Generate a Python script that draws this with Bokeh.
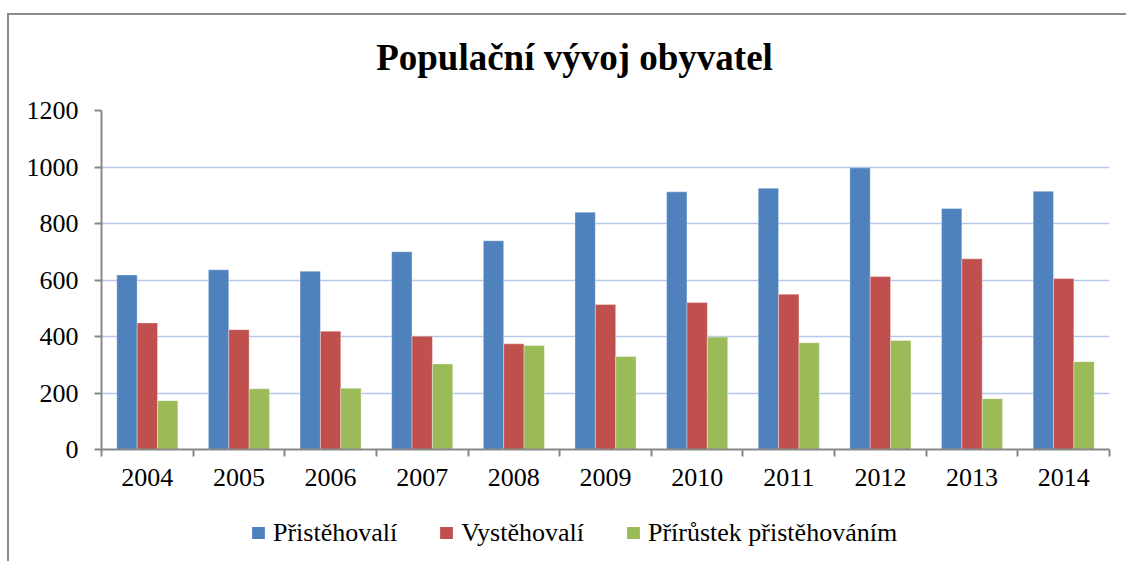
from bokeh.plotting import figure
from bokeh.layouts import column
from bokeh.models import Range1d, FixedTicker, Legend, LegendItem, ColumnDataSource, Label
from bokeh.transform import dodge
from bokeh.embed import file_html
from bokeh.resources import INLINE

years = ["2004", "2005", "2006", "2007", "2008", "2009", "2010", "2011", "2012", "2013", "2014"]
pristehovali = [618, 636, 631, 700, 739, 840, 912, 925, 997, 853, 914]
vystehovali = [448, 424, 419, 401, 374, 513, 520, 550, 612, 675, 605]
prirustek = [173, 215, 217, 303, 368, 329, 398, 378, 386, 180, 311]
series_names = ["Přistěhovalí", "Vystěhovalí", "Přírůstek přistěhováním"]
colors = ["#4F81BD", "#C0504D", "#9BBB59"]
title_text = "Populační vývoj obyvatel"
y_ticks = [0, 200, 400, 600, 800, 1000, 1200]

n = len(years)
centers = [i + 0.5 for i in range(n)]
src = ColumnDataSource(dict(x=centers, a=pristehovali, b=vystehovali, c=prirustek))

FONT = "Liberation Serif"
W = 1117


def strip(height):
    f = figure(width=W, height=height, output_backend="svg", toolbar_location=None,
               x_range=Range1d(0, 1), y_range=Range1d(0, 1), x_axis_type=None, y_axis_type=None,
               min_border_left=0, min_border_right=0, min_border_top=0, min_border_bottom=0)
    f.outline_line_color = None
    f.grid.visible = False
    f.background_fill_color = "white"
    f.border_fill_color = "white"
    return f


# title strip
t = strip(80)
t.add_layout(Label(x=473, y=38, x_units="screen", y_units="screen", text=title_text,
                   text_font=FONT, text_font_size="37px", text_font_style="bold",
                   text_align="center", text_baseline="alphabetic", text_color="black"))

# main chart
p = figure(width=W, height=410, output_backend="svg", toolbar_location=None,
           x_range=Range1d(0, n), y_range=Range1d(0, 1200),
           min_border_left=92, min_border_right=17, min_border_top=15, min_border_bottom=56)
p.outline_line_color = None
p.background_fill_color = "white"
p.border_fill_color = "white"

bw = 2 / 9
renderers = []
for col, off, color in zip(["a", "b", "c"], [-bw, 0, bw], colors):
    r = p.vbar(x=dodge("x", off, range=p.x_range), top=col, width=bw, bottom=0, source=src,
               fill_color=color, line_color="white", line_alpha=0.35, line_width=1)
    renderers.append(r)

xa = p.xaxis[0]
xa.ticker = FixedTicker(ticks=centers, minor_ticks=list(range(n + 1)))
xa.major_label_overrides = {c: y for c, y in zip(centers, years)}
xa.major_tick_line_color = None
xa.minor_tick_line_color = "#888888"
xa.minor_tick_line_width = 2
xa.minor_tick_out = 7
xa.minor_tick_in = 0
xa.axis_line_color = "#888888"
xa.axis_line_width = 2
xa.major_label_text_font = FONT
xa.major_label_text_font_size = "26px"
xa.major_label_text_color = "black"
xa.major_label_standoff = 12

ya = p.yaxis[0]
ya.ticker = FixedTicker(ticks=y_ticks, minor_ticks=[])
ya.major_tick_line_color = "#888888"
ya.major_tick_line_width = 2
ya.major_tick_out = 7
ya.major_tick_in = 0
ya.minor_tick_line_color = None
ya.axis_line_color = "#888888"
ya.axis_line_width = 2
ya.major_label_text_font = FONT
ya.major_label_text_font_size = "26px"
ya.major_label_text_color = "black"
ya.major_label_standoff = 16

p.xgrid.grid_line_color = None
p.ygrid.grid_line_color = "#b3c8ea"
p.ygrid.grid_line_width = 1.5
p.ygrid.ticker = FixedTicker(ticks=y_ticks[1:])

# legend strip (its frame is aligned with p's frame by the column layout)
q = strip(56)
# zero-height placeholder bars: they only supply the legend swatches
swatch = ColumnDataSource(dict(x=[0.5], top=[0]))
leg_renderers = [q.vbar(x="x", top="top", bottom=0, width=0.1, source=swatch, fill_color=c, line_color=None)
                 for c in colors]

legend = Legend(items=[LegendItem(label=nm, renderers=[r]) for nm, r in zip(series_names, leg_renderers)],
                orientation="horizontal", location=(149, 13.5),
                label_text_font=FONT, label_text_font_size="26px", label_text_color="black",
                label_height=29, glyph_height=15, glyph_width=16, label_standoff=7, spacing=41,
                padding=0, margin=0, border_line_color=None, background_fill_alpha=0)
q.add_layout(legend)

layout = column(t, p, q, spacing=0)
layout.styles = {"border-top": "2px solid #8c8c8c", "border-left": "2px solid #8c8c8c",
                 "margin-top": "13px", "margin-left": "7px"}

open("out.html", "w").write(file_html(layout, INLINE))
